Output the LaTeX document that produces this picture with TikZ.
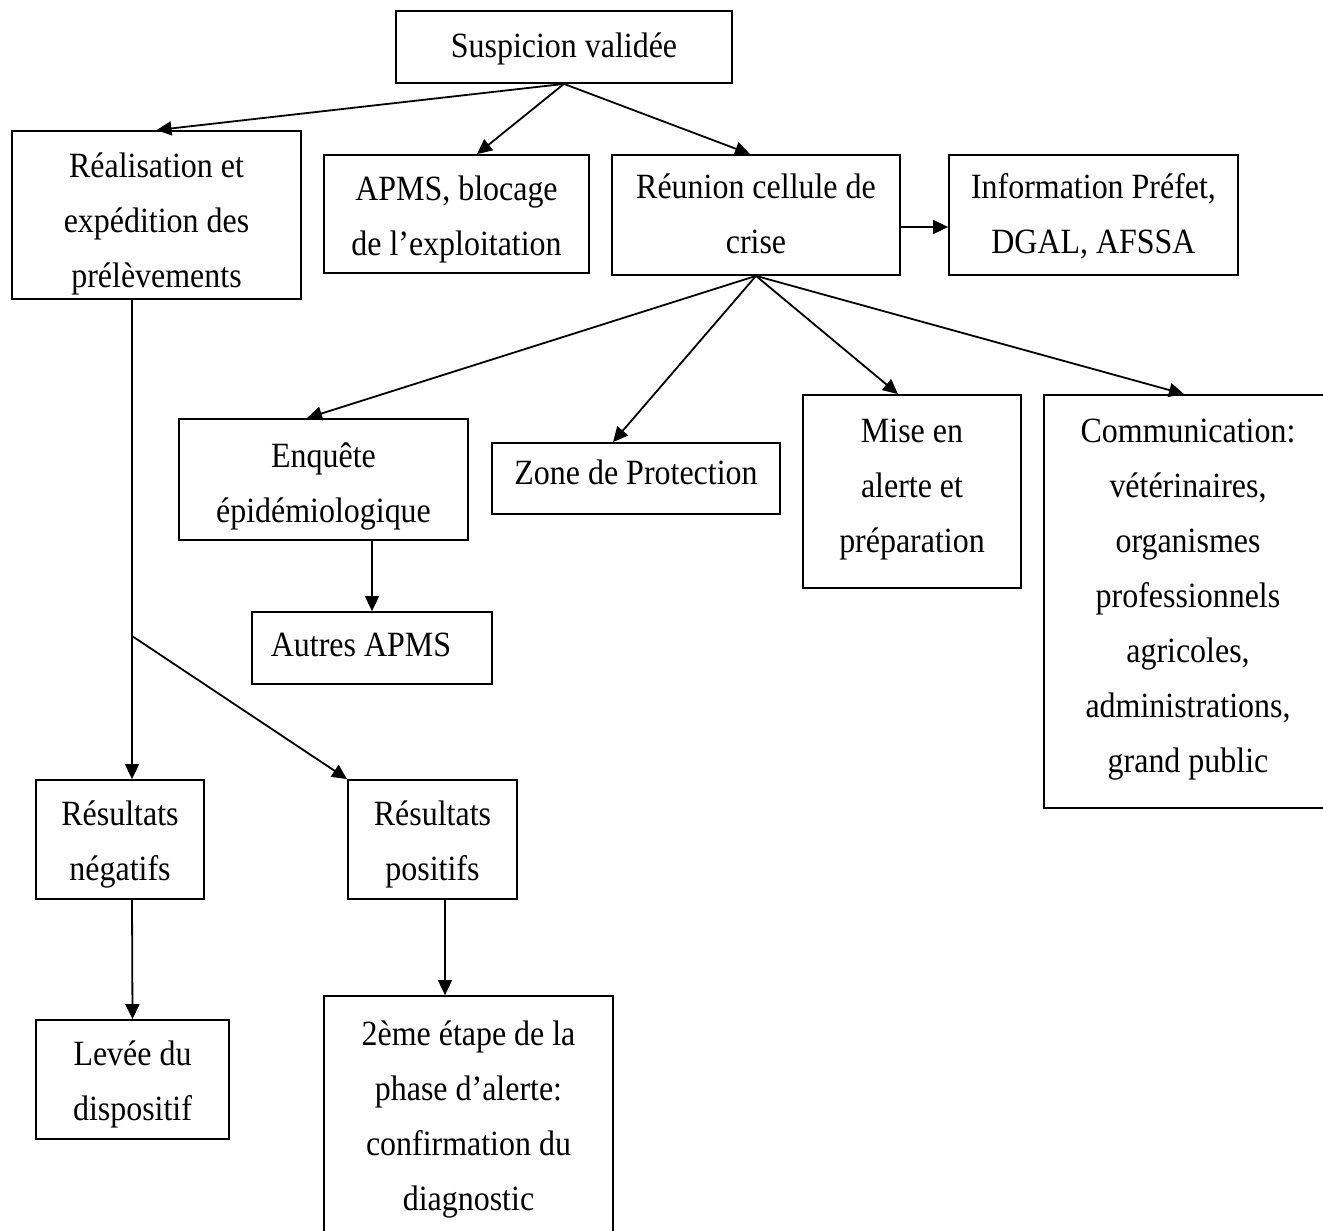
\documentclass[tikz,border=0pt]{standalone}
\usepackage{fontspec}
\setmainfont{Liberation Serif}[FakeStretch=0.9]
\usetikzlibrary{arrows.meta}
% stacked centred lines, moved up or down inside the box without changing its size
\newcommand\boxlines[2]{\raisebox{#1}[\height][\depth]{\begin{tabular}{@{}c@{}}#2\end{tabular}}}
\begin{document}
\begin{tikzpicture}[x=1pt,y=-1pt,
  box/.style={draw, line width=1.8pt, inner sep=0pt,
    font=\fontsize{35.5}{55}\selectfont},
  arr/.style={line width=1.8pt, -{Triangle[length=15pt,width=14pt]}}]
\path[fill=white,use as bounding box] (0,0) rectangle (1323,1231);
\clip (0,0) rectangle (1323,1231);

% top level
\node[box, minimum width=336pt, minimum height=72pt] (susp) at (564,47)
  {\boxlines{0pt}{Suspicion validée}};
\node[box, minimum width=289pt, minimum height=168pt] (real) at (156.5,215)
  {\boxlines{-6pt}{Réalisation et\\expédition des\\prélèvements}};
\node[box, minimum width=265pt, minimum height=118pt] (apms) at (456.5,214)
  {\boxlines{-3pt}{APMS, blocage\\de l’exploitation}};
\node[box, minimum width=288pt, minimum height=120pt] (reun) at (756,215)
  {\boxlines{0pt}{Réunion cellule de\\crise}};
\node[box, minimum width=289pt, minimum height=120pt] (info) at (1093.5,215)
  {\boxlines{0pt}{Information Préfet,\\DGAL, AFSSA}};

% actions decided by the crisis cell
\node[box, minimum width=289pt, minimum height=121pt] (enq) at (323.5,479.5)
  {\boxlines{-4pt}{Enquête\\épidémiologique}};
\node[box, minimum width=288pt, minimum height=71pt] (zone) at (636,478.5)
  {\boxlines{5pt}{Zone de Protection}};
\node[box, minimum width=218pt, minimum height=193pt] (mise) at (912,491.5)
  {\boxlines{5pt}{Mise en\\alerte et\\préparation}};
\node[box, minimum width=288pt, minimum height=413pt] (comm) at (1188,601.5)
  {\boxlines{5pt}{Communication:\\vétérinaires,\\organismes\\professionnels\\agricoles,\\administrations,\\grand public}};
\node[box, minimum width=240pt, minimum height=72pt] (autres) at (372,648)
  {\boxlines{3pt}{Autres APMS\hspace*{22pt}}};

% laboratory results
\node[box, minimum width=168pt, minimum height=119pt] (neg) at (120,839.5)
  {\boxlines{-2pt}{Résultats\\négatifs}};
\node[box, minimum width=169pt, minimum height=119pt] (pos) at (432.5,839.5)
  {\boxlines{-2pt}{Résultats\\positifs}};
\node[box, minimum width=193pt, minimum height=119pt] (levee) at (132.5,1079.5)
  {\boxlines{-2pt}{Levée du\\dispositif}};
\node[box, minimum width=289pt, minimum height=254pt] (deux) at (468.5,1123)
  {\boxlines{6pt}{2ème étape de la\\phase d’alerte:\\confirmation du\\diagnostic}};

% connectors
\draw[arr] (susp.south) -- (real.north);
\draw[arr] (susp.south) -- ([xshift=20.5pt]apms.north);
\draw[arr] (susp.south) -- ([xshift=-6pt]reun.north);
\draw[arr] ([yshift=-12pt]reun.east) -- ([yshift=-12pt]info.west);
\draw[arr] (reun.south) -- ([xshift=-16.5pt]enq.north);
\draw[arr] (reun.south) -- ([xshift=-23pt]zone.north);
\draw[arr] (reun.south) -- ([xshift=-14pt]mise.north);
\draw[arr] (reun.south) -- ([xshift=-4pt]comm.north);
\draw[arr] ([xshift=48.5pt]enq.south) -- (autres.north);
\draw[arr] ([xshift=-24.5pt]real.south) -- ([xshift=12pt]neg.north);
\coordinate (branch) at (132,636);
\draw[arr] (branch) -- (pos.north west);
\draw[arr] ([xshift=12pt]neg.south) -- (levee.north);
\draw[arr] ([xshift=12.5pt]pos.south) -- ([xshift=-23.5pt]deux.north);
\end{tikzpicture}
\end{document}
